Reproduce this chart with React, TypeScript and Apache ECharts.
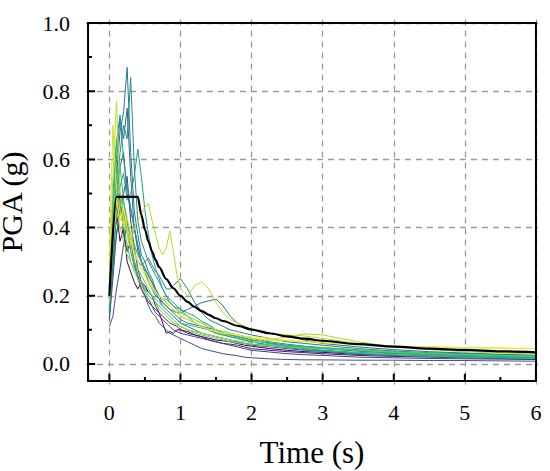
import React, { useEffect, useRef } from "react";
import * as echarts from "echarts";

const periods = [0, 0.05, 0.1, 0.15, 0.2, 0.25, 0.3, 0.35, 0.4, 0.45, 0.5, 0.55, 0.6, 0.65, 0.7, 0.75, 0.8, 0.85, 0.9, 0.95, 1.0, 1.1, 1.2, 1.3, 1.4, 1.5, 1.6, 1.7, 1.8, 1.9, 2.0, 2.25, 2.5, 2.75, 3.0, 3.5, 4.0, 4.5, 5.0, 5.5, 6.0];

const rec01 = [0.15, 0.30, 0.45, 0.36, 0.40, 0.30, 0.27, 0.24, 0.22, 0.24, 0.23, 0.21, 0.20, 0.17, 0.15, 0.12, 0.09, 0.095, 0.09, 0.10, 0.10, 0.095, 0.085, 0.08, 0.075, 0.07, 0.068, 0.065, 0.06, 0.055, 0.052, 0.045, 0.04, 0.036, 0.034, 0.028, 0.025, 0.022, 0.02, 0.018, 0.016];
const rec02 = [0.18, 0.35, 0.42, 0.50, 0.38, 0.33, 0.36, 0.30, 0.26, 0.22, 0.20, 0.18, 0.17, 0.16, 0.15, 0.14, 0.13, 0.12, 0.115, 0.11, 0.10, 0.09, 0.085, 0.08, 0.07, 0.065, 0.06, 0.058, 0.055, 0.05, 0.045, 0.04, 0.036, 0.033, 0.03, 0.025, 0.022, 0.02, 0.018, 0.016, 0.014];
const rec03 = [0.13, 0.25, 0.38, 0.44, 0.50, 0.55, 0.42, 0.34, 0.28, 0.24, 0.21, 0.19, 0.17, 0.15, 0.14, 0.13, 0.12, 0.11, 0.10, 0.095, 0.09, 0.085, 0.08, 0.075, 0.07, 0.065, 0.06, 0.055, 0.05, 0.045, 0.04, 0.035, 0.03, 0.027, 0.025, 0.02, 0.018, 0.016, 0.015, 0.014, 0.013];
const rec04 = [0.11, 0.14, 0.22, 0.28, 0.35, 0.42, 0.33, 0.29, 0.25, 0.22, 0.20, 0.17, 0.15, 0.14, 0.12, 0.11, 0.10, 0.09, 0.085, 0.08, 0.075, 0.065, 0.055, 0.045, 0.04, 0.035, 0.03, 0.027, 0.024, 0.02, 0.018, 0.015, 0.013, 0.012, 0.012, 0.011, 0.011, 0.01, 0.01, 0.009, 0.008];
const rec05 = [0.16, 0.45, 0.60, 0.72, 0.66, 0.75, 0.55, 0.40, 0.33, 0.30, 0.28, 0.26, 0.24, 0.21, 0.19, 0.17, 0.16, 0.15, 0.14, 0.13, 0.12, 0.11, 0.10, 0.09, 0.085, 0.08, 0.075, 0.07, 0.065, 0.06, 0.055, 0.05, 0.045, 0.04, 0.037, 0.03, 0.026, 0.023, 0.02, 0.018, 0.016];
const rec06 = [0.14, 0.30, 0.45, 0.58, 0.62, 0.50, 0.45, 0.40, 0.35, 0.30, 0.27, 0.24, 0.22, 0.20, 0.19, 0.18, 0.17, 0.16, 0.155, 0.15, 0.15, 0.16, 0.17, 0.18, 0.185, 0.19, 0.17, 0.14, 0.12, 0.11, 0.10, 0.09, 0.08, 0.07, 0.06, 0.05, 0.042, 0.036, 0.032, 0.028, 0.025];
const rec07 = [0.20, 0.40, 0.55, 0.68, 0.74, 0.87, 0.62, 0.45, 0.38, 0.32, 0.30, 0.27, 0.25, 0.22, 0.20, 0.18, 0.17, 0.16, 0.15, 0.14, 0.13, 0.12, 0.115, 0.11, 0.105, 0.10, 0.09, 0.085, 0.08, 0.075, 0.07, 0.06, 0.052, 0.048, 0.045, 0.038, 0.032, 0.028, 0.025, 0.022, 0.02];
const rec08 = [0.15, 0.28, 0.38, 0.46, 0.44, 0.40, 0.36, 0.33, 0.30, 0.29, 0.30, 0.31, 0.29, 0.27, 0.26, 0.24, 0.22, 0.22, 0.23, 0.24, 0.25, 0.22, 0.18, 0.15, 0.13, 0.12, 0.11, 0.10, 0.095, 0.09, 0.085, 0.075, 0.065, 0.06, 0.055, 0.045, 0.038, 0.033, 0.03, 0.027, 0.025];
const rec09 = [0.17, 0.38, 0.50, 0.62, 0.70, 0.66, 0.84, 0.58, 0.42, 0.36, 0.33, 0.30, 0.28, 0.26, 0.24, 0.22, 0.20, 0.18, 0.17, 0.16, 0.15, 0.14, 0.13, 0.12, 0.11, 0.10, 0.095, 0.09, 0.085, 0.08, 0.075, 0.065, 0.058, 0.052, 0.048, 0.04, 0.034, 0.03, 0.027, 0.024, 0.022];
const rec10 = [0.17, 0.50, 0.65, 0.73, 0.60, 0.52, 0.46, 0.40, 0.35, 0.30, 0.28, 0.26, 0.24, 0.22, 0.20, 0.19, 0.18, 0.17, 0.16, 0.15, 0.14, 0.13, 0.12, 0.11, 0.10, 0.09, 0.085, 0.08, 0.075, 0.07, 0.065, 0.055, 0.048, 0.042, 0.038, 0.03, 0.025, 0.022, 0.02, 0.018, 0.016];
const rec11 = [0.19, 0.32, 0.44, 0.52, 0.56, 0.48, 0.50, 0.55, 0.63, 0.55, 0.45, 0.38, 0.32, 0.28, 0.25, 0.22, 0.20, 0.19, 0.18, 0.17, 0.16, 0.15, 0.14, 0.125, 0.115, 0.10, 0.09, 0.085, 0.08, 0.075, 0.07, 0.062, 0.055, 0.05, 0.045, 0.038, 0.032, 0.028, 0.025, 0.022, 0.02];
const rec12 = [0.22, 0.42, 0.58, 0.50, 0.47, 0.42, 0.38, 0.35, 0.32, 0.30, 0.28, 0.25, 0.23, 0.21, 0.20, 0.19, 0.19, 0.18, 0.17, 0.165, 0.16, 0.14, 0.12, 0.11, 0.10, 0.09, 0.085, 0.08, 0.075, 0.07, 0.065, 0.055, 0.05, 0.045, 0.04, 0.034, 0.03, 0.026, 0.022, 0.02, 0.018];
const rec13 = [0.16, 0.40, 0.66, 0.58, 0.48, 0.42, 0.36, 0.30, 0.26, 0.24, 0.22, 0.21, 0.20, 0.19, 0.18, 0.17, 0.16, 0.15, 0.14, 0.13, 0.12, 0.115, 0.11, 0.105, 0.10, 0.095, 0.09, 0.085, 0.08, 0.075, 0.07, 0.06, 0.052, 0.046, 0.04, 0.032, 0.027, 0.023, 0.02, 0.018, 0.016];
const rec14 = [0.20, 0.38, 0.52, 0.46, 0.40, 0.35, 0.30, 0.28, 0.26, 0.24, 0.22, 0.20, 0.19, 0.18, 0.17, 0.16, 0.15, 0.14, 0.13, 0.12, 0.11, 0.10, 0.095, 0.09, 0.085, 0.08, 0.075, 0.07, 0.065, 0.06, 0.058, 0.055, 0.052, 0.05, 0.048, 0.042, 0.036, 0.032, 0.028, 0.025, 0.023];
const rec15 = [0.25, 0.45, 0.56, 0.50, 0.44, 0.38, 0.33, 0.30, 0.28, 0.26, 0.24, 0.22, 0.20, 0.18, 0.16, 0.15, 0.14, 0.13, 0.12, 0.115, 0.11, 0.10, 0.09, 0.085, 0.08, 0.075, 0.07, 0.065, 0.062, 0.06, 0.058, 0.055, 0.05, 0.047, 0.045, 0.04, 0.034, 0.03, 0.027, 0.024, 0.022];
const rec16 = [0.18, 0.35, 0.45, 0.40, 0.36, 0.32, 0.30, 0.27, 0.25, 0.23, 0.21, 0.19, 0.18, 0.17, 0.16, 0.15, 0.14, 0.13, 0.12, 0.115, 0.11, 0.10, 0.095, 0.09, 0.085, 0.08, 0.075, 0.07, 0.068, 0.065, 0.062, 0.07, 0.08, 0.088, 0.085, 0.065, 0.05, 0.042, 0.036, 0.032, 0.03];
const rec17 = [0.24, 0.55, 0.77, 0.50, 0.42, 0.38, 0.35, 0.40, 0.42, 0.44, 0.46, 0.47, 0.42, 0.38, 0.34, 0.32, 0.34, 0.39, 0.33, 0.26, 0.22, 0.20, 0.23, 0.24, 0.22, 0.18, 0.15, 0.13, 0.12, 0.11, 0.10, 0.09, 0.085, 0.082, 0.075, 0.06, 0.05, 0.045, 0.04, 0.035, 0.032];
const rec18 = [0.30, 0.70, 0.50, 0.45, 0.40, 0.43, 0.38, 0.33, 0.30, 0.28, 0.26, 0.24, 0.22, 0.21, 0.20, 0.19, 0.18, 0.17, 0.16, 0.155, 0.15, 0.14, 0.13, 0.12, 0.11, 0.10, 0.095, 0.09, 0.085, 0.08, 0.075, 0.07, 0.068, 0.065, 0.062, 0.058, 0.052, 0.05, 0.048, 0.046, 0.045];
const rec19 = [0.20, 0.36, 0.48, 0.42, 0.46, 0.40, 0.36, 0.32, 0.30, 0.28, 0.27, 0.25, 0.23, 0.21, 0.20, 0.19, 0.18, 0.17, 0.16, 0.15, 0.14, 0.13, 0.12, 0.11, 0.10, 0.095, 0.09, 0.088, 0.085, 0.082, 0.08, 0.075, 0.07, 0.066, 0.062, 0.057, 0.052, 0.05, 0.048, 0.047, 0.045];

const records = [rec01, rec02, rec03, rec04, rec05, rec06, rec07, rec08, rec09, rec10, rec11, rec12, rec13, rec14, rec15, rec16, rec17, rec18, rec19];
const recordColors = ["#440154", "#482173", "#433d84", "#3b528b", "#31688e", "#2c728e", "#2a788e", "#287d8e", "#21918c", "#1f958b", "#1f9e89", "#25ab82", "#35b779", "#3fbc73", "#5ec962", "#a0da39", "#b5de2b", "#d8e219", "#fde725"];

const designT = [0, 0.1, 0.4, 0.45, 0.5, 0.55, 0.6, 0.65, 0.7, 0.8, 0.9, 1.0, 1.1, 1.2, 1.3, 1.4, 1.5, 1.6, 1.8, 2.0, 2.25, 2.5, 2.75, 3.0, 3.5, 4.0, 4.5, 5.0, 5.5, 6.0];
const designSa = [0.2, 0.49, 0.49, 0.437, 0.394, 0.359, 0.33, 0.305, 0.284, 0.249, 0.222, 0.2, 0.182, 0.167, 0.155, 0.144, 0.134, 0.126, 0.112, 0.101, 0.09, 0.081, 0.074, 0.068, 0.058, 0.051, 0.045, 0.041, 0.037, 0.034];

const xTicks = [0, 1, 2, 3, 4, 5, 6];
const xMinorTicks = [0.5, 1.5, 2.5, 3.5, 4.5, 5.5];
const yTicks = [0, 0.2, 0.4, 0.6, 0.8, 1.0];
const yMinorTicks = [0.1, 0.3, 0.5, 0.7, 0.9];

const FONT = "Liberation Serif";
// frame extents (what the picture's box spans)
const FX_MIN = -0.3, FX_MAX = 6, FY_MIN = -0.05, FY_MAX = 1.0;
// axis extents, a hair wider so the frame sits inside the grid
const X_MIN = -0.33, X_MAX = 6.03, Y_MIN = -0.06, Y_MAX = 1.01;

export default function App() {
  const ref = useRef<HTMLDivElement>(null);
  useEffect(() => {
    if (!ref.current) return;
    const chart = echarts.init(ref.current, null, { renderer: "svg" });
    const series: any[] = records.map((rec, i) => ({
      type: "line",
      data: periods.map((t, j) => [t, rec[j]]),
      showSymbol: false,
      symbol: "none",
      lineStyle: { color: recordColors[i], width: 1 },
      z: 3,
      silent: true,
    }));
    series.push({
      type: "line",
      data: designT.map((t, j) => [t, designSa[j]]),
      showSymbol: false,
      symbol: "none",
      smooth: 0.3,
      smoothMonotone: "x",
      lineStyle: { color: "#000", width: 2.2 },
      z: 5,
      silent: true,
    });
    series.push({
      type: "line",
      data: [[FX_MIN, FY_MIN], [FX_MAX, FY_MIN], [FX_MAX, FY_MAX], [FX_MIN, FY_MAX], [FX_MIN, FY_MIN]],
      showSymbol: false,
      symbol: "none",
      clip: false,
      lineStyle: { color: "#000", width: 2, join: "miter", cap: "square" },
      z: 20,
      silent: true,
    });
    const majLenY = 0.021, minLenY = 0.012, majLenX = 0.1, minLenX = 0.056;
    const tickData: any[] = [];
    xTicks.forEach((v) => tickData.push([v, FY_MIN], [v, FY_MIN + majLenY], "-"));
    xMinorTicks.forEach((v) => tickData.push([v, FY_MIN], [v, FY_MIN + minLenY], "-"));
    yTicks.forEach((v) => tickData.push([FX_MIN, v], [FX_MIN + majLenX, v], "-"));
    yMinorTicks.forEach((v) => tickData.push([FX_MIN, v], [FX_MIN + minLenX, v], "-"));
    series.push({
      type: "line",
      data: tickData,
      connectNulls: false,
      showSymbol: false,
      symbol: "none",
      clip: false,
      lineStyle: { color: "#000", width: 2 },
      z: 20,
      silent: true,
    });
    const labelRich = { t: { fontFamily: FONT, fontSize: 22, color: "#000" } };
    const splitStyle = { color: "#9a9a9a", width: 1.3, type: [6, 5] };
    chart.setOption({
      animation: false,
      textStyle: { fontFamily: FONT },
      grid: { left: 85.9, right: 11.9, top: 19.6, bottom: 86.6, show: false, outerBoundsMode: "none" },
      xAxis: {
        type: "value", min: X_MIN, max: X_MAX, position: "bottom",
        splitNumber: 6, minInterval: 1, maxInterval: 1,
        name: "Time (s)", nameLocation: "middle", nameGap: 53,
        nameTextStyle: { fontFamily: FONT, fontSize: 31, color: "#000" },
        axisLine: { show: false, onZero: false },
        axisTick: { show: false },
        axisLabel: {
          customValues: xTicks, margin: 17, fontFamily: FONT, fontSize: 22, color: "#000",
          formatter: (v: number) => `{t|${Math.round(v)}}`, rich: labelRich,
        },
        splitLine: { show: true, showMinLine: false, showMaxLine: false, lineStyle: splitStyle },
      },
      yAxis: {
        type: "value", min: Y_MIN, max: Y_MAX, position: "left",
        splitNumber: 5, minInterval: 0.2, maxInterval: 0.2,
        name: "PGA (g)", nameLocation: "middle", nameGap: 59,
        nameTextStyle: { fontFamily: FONT, fontSize: 30, color: "#000" },
        axisLine: { show: false, onZero: false },
        axisTick: { show: false },
        axisLabel: {
          customValues: yTicks, margin: 16, fontFamily: FONT, fontSize: 22, color: "#000",
          formatter: (v: number) => `{t|${v.toFixed(1)}}`, rich: labelRich,
        },
        splitLine: { show: true, showMinLine: false, showMaxLine: false, lineStyle: splitStyle },
      },
      series,
    });
    return () => chart.dispose();
  }, []);
  return <div ref={ref} style={{ position: "fixed", left: 0, top: 0, width: 550, height: 471, background: "#fff" }} />;
}
